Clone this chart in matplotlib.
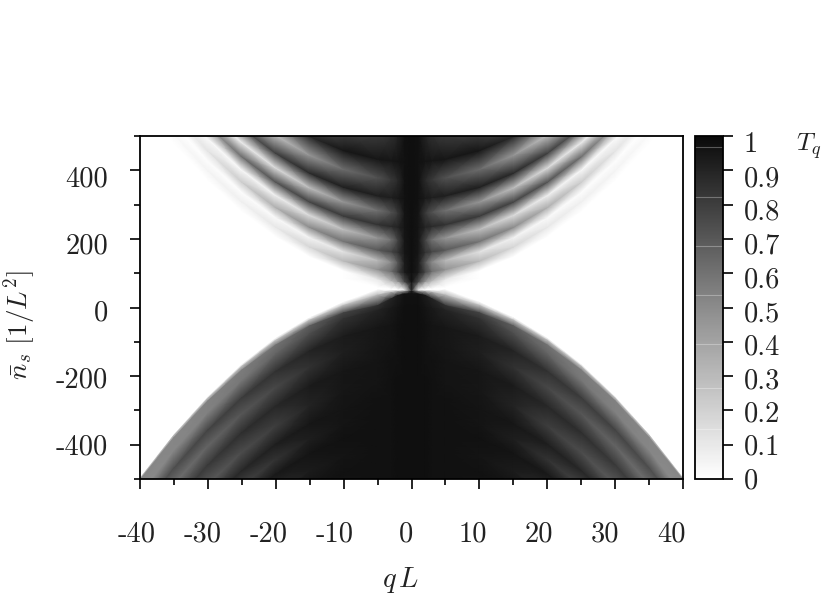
import numpy as np
import matplotlib as mpl
mpl.use('Agg')
import matplotlib.pyplot as plt
from matplotlib.colors import LinearSegmentedColormap

mpl.rcParams['font.family'] = 'cmr10'
mpl.rcParams['mathtext.fontset'] = 'cm'

# right half only, the picture is mirrored about q = 0
q_vals = [0, 1, 2, 3, 5, 10, 15, 20, 25, 30, 35, 40]

# fringes, lower half, top to bottom: n_s along each fringe
n_lower = [
    [52, 51, 51, 51, 52, 16, -29, -89, -166, -260, -370, -497],
    [48, 47, 46, 44, 36, 6, -37, -96, -172, -265, -373, -499],
    [40, 39, 35, 25, 5, -16, -54, -110, -183, -273, -380, -503],
    [0, 0, -1, -3, -9, -34, -77, -136, -213, -307, -418, -546],
    [-51, -51, -52, -54, -60, -85, -128, -187, -264, -358, -469, -597],
    [-97, -97, -98, -100, -106, -131, -174, -233, -310, -404, -515, -643],
    [-153, -153, -154, -156, -162, -187, -230, -289, -366, -460, -571, -699],
    [-209, -209, -210, -212, -218, -243, -286, -345, -422, -516, -627, -755],
    [-264, -264, -265, -267, -273, -298, -341, -400, -477, -571, -682, -810],
    [-307, -307, -308, -310, -316, -341, -384, -443, -520, -614, -725, -853],
    [-351, -351, -352, -354, -360, -385, -428, -487, -564, -658, -769, -897],
    [-400, -400, -401, -403, -409, -434, -477, -536, -613, -707, -818, -946],
    [-450, -450, -451, -453, -459, -484, -527, -586, -663, -757, -868, -996],
    [-500, -500, -501, -503, -509, -534, -577, -636, -713, -807, -918, -1046],
    [-560, -560, -561, -563, -569, -594, -637, -696, -773, -867, -978, -1106],
]
# T_q along the same fringes
t_lower = [
    [.90, .05, 0, 0, 0, 0, 0, 0, 0, 0, 0, 0],
    [.95, .50, .40, .35, .30, .28, .28, .28, .28, .28, .28, .28],
    [.97, .97, .93, .90, .85, .78, .68, .60, .56, .54, .52, .52],
    [.98, .98, .96, .94, .90, .85, .74, .66, .58, .54, .52, .50],
    [.98, .98, .97, .96, .95, .93, .90, .85, .81, .78, .74, .70],
    [.98, .98, .97, .96, .95, .92, .85, .76, .70, .65, .61, .58],
    [.98, .98, .97, .97, .96, .95, .93, .89, .86, .82, .78, .74],
    [.98, .98, .98, .97, .96, .95, .90, .80, .74, .69, .66, .63],
    [.98, .98, .98, .97, .97, .96, .95, .92, .89, .86, .82, .78],
    [.98, .98, .98, .97, .97, .96, .92, .84, .78, .74, .70, .68],
    [.98, .98, .98, .97, .97, .97, .96, .94, .91, .87, .83, .79],
    [.98, .98, .98, .97, .97, .96, .93, .87, .82, .78, .74, .70],
    [.98, .98, .98, .97, .97, .97, .96, .95, .92, .88, .84, .80],
    [.98, .98, .98, .97, .97, .96, .96, .94, .89, .84, .80, .76],
    [.98, .98, .98, .97, .97, .97, .97, .96, .95, .90, .85, .80],
]

# upper half, bottom to top
n_upper = [
    [50, 52, 53, 55, 60, 85, 125, 184, 258, 349, 456, 580],
    [75, 75, 76, 78, 83, 108, 149, 207, 281, 372, 479, 603],
    [103, 103, 104, 106, 111, 136, 177, 235, 309, 400, 507, 631],
    [130, 130, 131, 133, 138, 163, 204, 262, 336, 427, 534, 658],
    [160, 160, 161, 163, 168, 193, 234, 292, 366, 457, 564, 688],
    [195, 195, 196, 198, 203, 228, 269, 327, 401, 492, 599, 723],
    [234, 234, 235, 237, 242, 267, 308, 366, 440, 531, 638, 762],
    [275, 275, 276, 278, 283, 308, 349, 407, 481, 572, 679, 803],
    [318, 318, 319, 321, 326, 351, 392, 450, 524, 615, 722, 846],
    [370, 370, 371, 373, 378, 403, 444, 502, 576, 667, 774, 898],
    [425, 425, 426, 428, 433, 458, 499, 557, 631, 722, 829, 953],
    [500, 500, 501, 503, 508, 533, 574, 632, 706, 797, 904, 1028],
    [560, 560, 561, 563, 568, 593, 634, 692, 766, 857, 964, 1088],
]
t_upper = [
    [.90, .10, 0, 0, 0, 0, 0, 0, 0, 0, 0, 0],
    [.97, .75, .45, .30, .10, 0, 0, 0, 0, 0, 0, 0],
    [.98, .93, .78, .62, .48, .30, .18, .10, .07, .05, .03, 0],
    [.98, .93, .70, .50, .30, .12, .05, .02, .01, .01, 0, 0],
    [.98, .95, .85, .78, .70, .60, .50, .35, .22, .12, .05, 0],
    [.98, .95, .78, .60, .45, .28, .15, .06, .03, .02, 0, 0],
    [.98, .96, .90, .88, .85, .82, .78, .72, .62, .45, .30, .10],
    [.98, .96, .82, .72, .60, .45, .28, .15, .08, .04, .02, 0],
    [.98, .97, .94, .92, .92, .92, .88, .80, .70, .50, .40, .30],
    [.98, .97, .88, .82, .72, .62, .45, .28, .15, .08, .04, 0],
    [.98, .97, .96, .95, .95, .95, .88, .80, .70, .50, .40, .30],
    [.98, .97, .90, .85, .80, .72, .50, .30, .20, .10, .05, 0],
    [.98, .97, .90, .85, .78, .70, .50, .30, .20, .10, .05, 0],
]

x_labels = ['-40', '-30', '-20', '-10', '0', '10', '20', '30', '40']
y_labels = ['400', '200', '0', '-200', '-400']
c_labels = ['1', '0.9', '0.8', '0.7', '0.6', '0.5', '0.4', '0.3', '0.2', '0.1', '0']
# faint lines in the colour bar
c_seams = [.968, .822, .679, .536, .394, .265, .146]

W, H = 822, 615
cmap = LinearSegmentedColormap.from_list('tq', ['#ffffff', '#8c8c8c', '#0a0a0a'])


def mirror(rows):
    rows = np.array(rows, dtype=float)
    return np.hstack([rows[:, :0:-1], rows])


def box(left, right, top, bottom):
    return [left / W, 1 - bottom / H, (right - left) / W, (bottom - top) / H]


def label(x, y, s, **kw):
    kw.setdefault('fontsize', 20.5)
    kw.setdefault('va', 'center')
    fig.text(x / W, 1 - y / H, s, color='#222222', **kw)


fig = plt.figure(figsize=(W / 100, H / 100), dpi=100)
ax = fig.add_axes(box(140, 683, 136, 479))
q = np.array(q_vals, dtype=float)
q = np.concatenate([-q[:0:-1], q])
for n_rows, t_rows in [(n_lower, t_lower), (n_upper, t_upper)]:
    Q = np.tile(q, (len(n_rows), 1))
    mesh = ax.pcolormesh(Q, mirror(n_rows), mirror(t_rows), shading='gouraud',
                         cmap=cmap, vmin=0, vmax=1)
ax.set_xlim(-40, 40)
ax.set_ylim(-500, 500)
ax.set_xticks(np.arange(-40, 41, 10))
ax.set_xticks(np.arange(-35, 40, 10), minor=True)
ax.set_yticks(np.arange(-400, 401, 200))
ax.set_yticks(np.arange(-500, 501, 200), minor=True)
ax.tick_params(which='major', length=7.5, width=1.2, labelbottom=False, labelleft=False)
ax.tick_params(which='minor', length=4, width=1.2)
for s in ax.spines.values():
    s.set_linewidth(1.3)

cax = fig.add_axes(box(695, 723, 136, 479))
cb = fig.colorbar(mesh, cax=cax)
cb.set_ticks(np.arange(0, 1.01, 0.1))
cb.ax.tick_params(length=7, width=1.2, labelright=False)
cb.ax.minorticks_off()
cb.outline.set_linewidth(1.3)
for s in c_seams:
    cax.axhline(s, color='white', alpha=.3, lw=.8)

for x, s in zip([137, 203, 269, 335, 406, 473, 539, 605, 671], x_labels):
    label(x, 534, s, ha='center')
for y, s in zip([179, 246, 313, 380, 447], y_labels):
    label(108, y, s, ha='right')
for y, s in zip([145, 179, 212, 246, 280, 314, 347, 381, 414, 447, 481], c_labels):
    label(744, y, s, ha='left')
label(796, 146, r'$T_q$', ha='left', fontsize=18.5)
label(401, 580, r'$q\,L$', ha='center')
label(20, 325, r'$\bar{n}_s\ [1/L^2]$', ha='center', rotation=90, fontsize=19.5)

fig.savefig('out.png', dpi=100)
